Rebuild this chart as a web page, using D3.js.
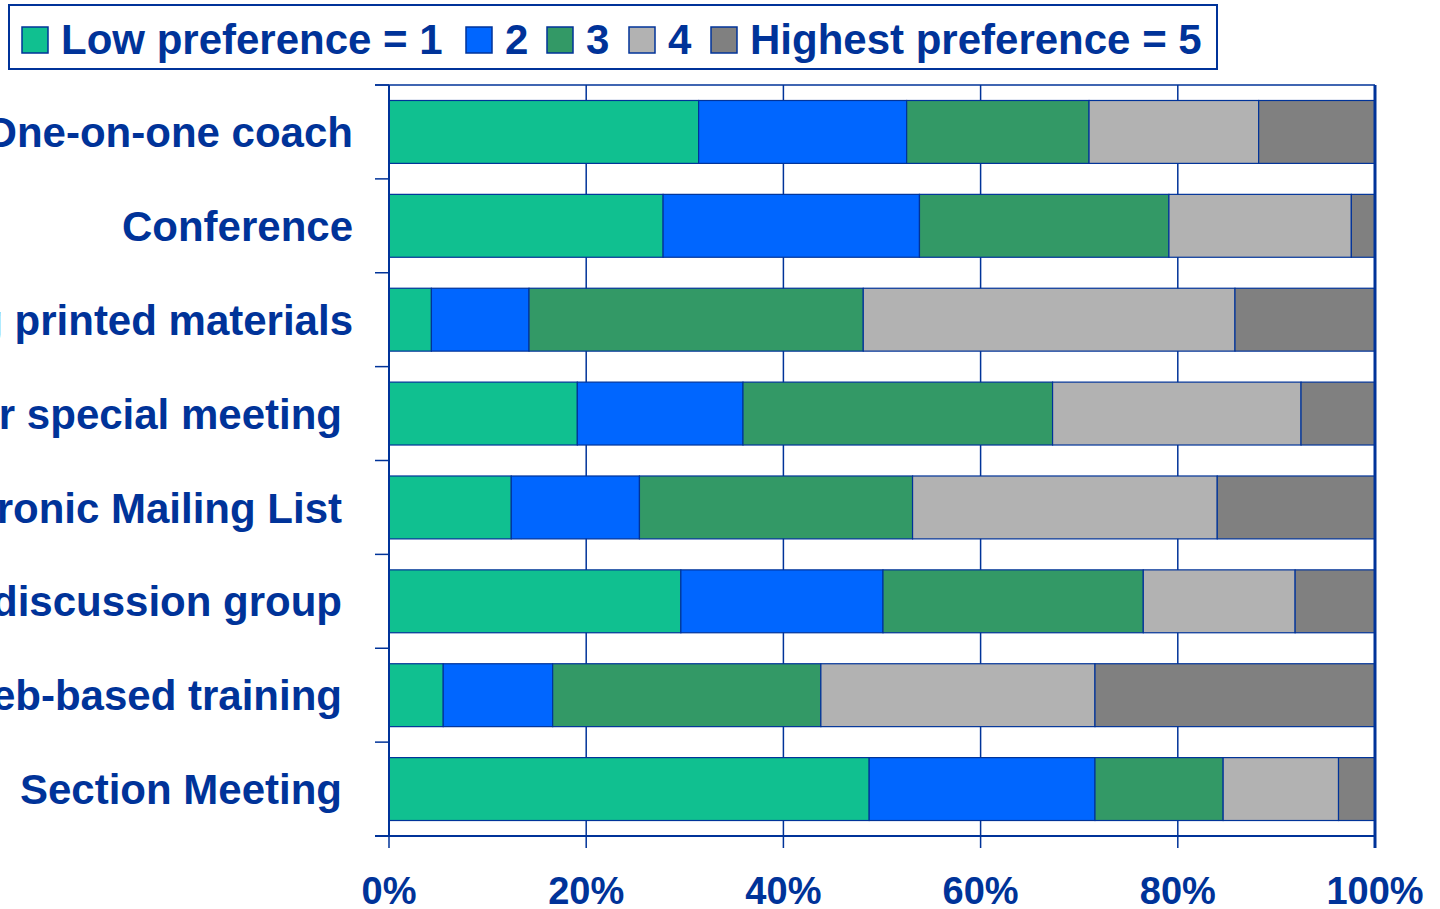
<!DOCTYPE html>
<html><head><meta charset="utf-8">
<script src="https://cdn.jsdelivr.net/npm/d3@7"></script>
<style>html,body{margin:0;padding:0;background:#fff;overflow:hidden}</style>
</head><body>
<svg id="chart" width="1440" height="909"></svg>
<script>
const categories = ["One-on-one coach","Conference","Receiving printed materials","Section or special meeting","Electronic Mailing List","Online discussion group","Web-based training","Section Meeting"];
const seriesNames = ["Low preference = 1","2","3","4","Highest preference = 5"];
const pref1 = [31.4, 27.8, 4.3, 19.1, 12.4, 29.6, 5.5, 48.7];
const pref2 = [21.1, 26.0, 9.9, 16.8, 13.0, 20.5, 11.1, 22.9];
const pref3 = [18.5, 25.3, 33.9, 31.4, 27.7, 26.4, 27.2, 13.0];
const pref4 = [17.2, 18.5, 37.7, 25.2, 30.9, 15.4, 27.8, 11.7];
const pref5 = [11.8, 2.4, 14.2, 7.5, 16.0, 8.1, 28.4, 3.7];
const tickValues = [0, 20, 40, 60, 80, 100];

const colors = ["#10C090", "#0066FF", "#339966", "#B2B2B2", "#808080"];
const ink = "#003399";
const labelRight = [353, 353, 353, 342, 342, 342, 342, 342];

const svg = d3.select("#chart");
const L = 389, R = 1375, T = 85, B = 836;

const rows = categories.map((c, i) => ({cat: c, v: [pref1[i], pref2[i], pref3[i], pref4[i], pref5[i]]}));
const stack = d3.stack().keys([0,1,2,3,4]).value((d, k) => d.v[k] / d3.sum(d.v) * 100);
const stacked = stack(rows);

const x = d3.scaleLinear().domain([0, 100]).range([L, R]);
const y = d3.scaleBand().domain(categories).range([T, B]).paddingInner(0.33).paddingOuter(0.165);

// gridlines
svg.append("g").selectAll("line").data(tickValues).join("line")
  .attr("x1", d => x(d)).attr("x2", d => x(d)).attr("y1", T).attr("y2", B + 12)
  .attr("stroke", ink).attr("stroke-width", 1.5);
// top border
svg.append("line").attr("x1", 375).attr("x2", R).attr("y1", T).attr("y2", T)
  .attr("stroke", ink).attr("stroke-width", 1.5);

// bars
svg.append("g").selectAll("g").data(stacked).join("g")
  .attr("fill", (d, i) => colors[i])
  .selectAll("rect").data(d => d).join("rect")
  .attr("x", d => x(d[0])).attr("width", d => x(d[1]) - x(d[0]))
  .attr("y", d => y(d.data.cat)).attr("height", y.bandwidth())
  .attr("stroke", ink).attr("stroke-width", 1.2);

// left axis ticks at band boundaries
const step = y.step();
const bounds = d3.range(categories.length + 1).map(i => T + i * (B - T) / categories.length);
svg.append("g").selectAll("line").data(bounds).join("line")
  .attr("x1", 375).attr("x2", L).attr("y1", d => d).attr("y2", d => d)
  .attr("stroke", ink).attr("stroke-width", 1.5);
svg.append("line").attr("x1", L).attr("x2", L).attr("y1", T).attr("y2", B)
  .attr("stroke", ink).attr("stroke-width", 2);
// bottom axis
svg.append("line").attr("x1", 375).attr("x2", R).attr("y1", B).attr("y2", B)
  .attr("stroke", ink).attr("stroke-width", 2);
// right border
svg.append("line").attr("x1", R).attr("x2", R).attr("y1", T).attr("y2", B + 12)
  .attr("stroke", ink).attr("stroke-width", 3);

// category labels
svg.append("g").selectAll("text").data(categories).join("text")
  .attr("x", (d, i) => labelRight[i]).attr("y", d => y(d) + y.bandwidth() / 2)
  .attr("dy", "0.36em").attr("text-anchor", "end")
  .attr("font-family", "Liberation Sans, Arial, sans-serif").attr("font-weight", "bold")
  .attr("font-size", 42).attr("fill", ink).text(d => d);

// x tick labels
svg.append("g").selectAll("text").data(tickValues).join("text")
  .attr("x", d => x(d)).attr("y", 904).attr("text-anchor", "middle")
  .attr("font-family", "Liberation Sans, Arial, sans-serif").attr("font-weight", "bold")
  .attr("font-size", 38).attr("fill", ink).text(d => d + "%");

// legend
const lg = svg.append("g");
lg.append("rect").attr("x", 9).attr("y", 5).attr("width", 1208).attr("height", 64)
  .attr("fill", "#fff").attr("stroke", ink).attr("stroke-width", 2);
const swatchX = [22, 466, 547, 629, 711];
seriesNames.forEach((n, i) => {
  lg.append("rect").attr("x", swatchX[i]).attr("y", 27).attr("width", 26).attr("height", 26)
    .attr("fill", colors[i]).attr("stroke", ink).attr("stroke-width", 1.5);
  lg.append("text").attr("x", swatchX[i] + 39).attr("y", 54)
    .attr("font-family", "Liberation Sans, Arial, sans-serif").attr("font-weight", "bold")
    .attr("font-size", 42).attr("fill", ink).text(n);
});
</script>
</body></html>
